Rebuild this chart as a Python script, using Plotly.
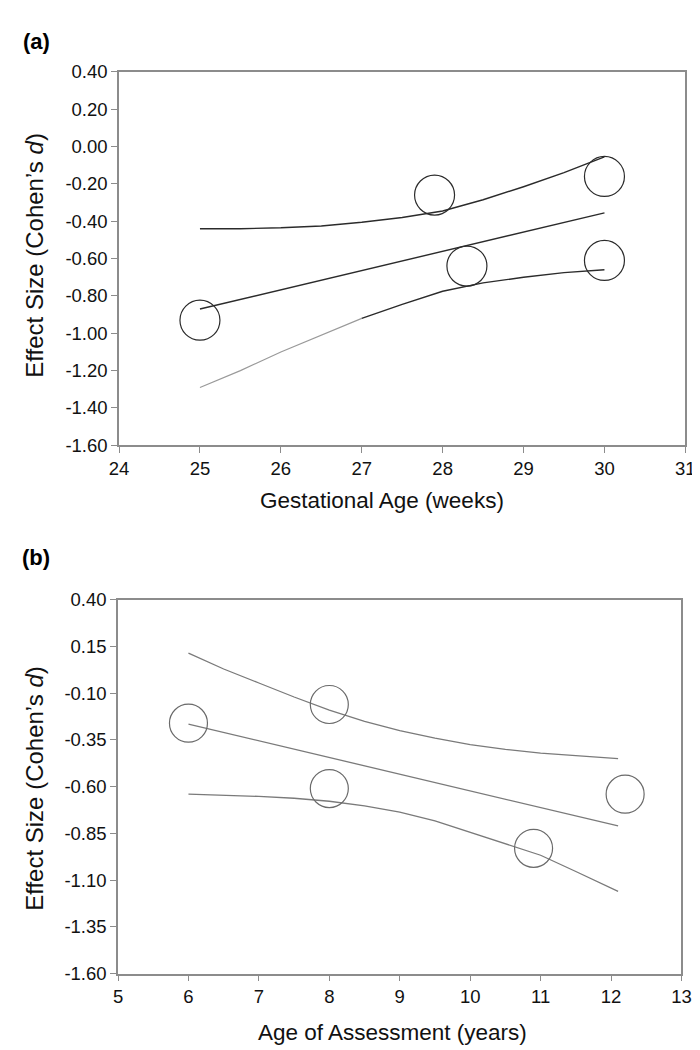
import plotly.graph_objects as go

# (a) effect size vs gestational age
ga_studies_x = [25, 27.9, 28.3, 30, 30]
ga_studies_d = [-0.93, -0.26, -0.64, -0.61, -0.16]
ga_fit_x = [25, 30]
ga_fit = [-0.87, -0.355]
ga_ci_x = [25, 25.5, 26, 26.5, 27, 27.5, 28, 28.5, 29, 29.5, 30]
ga_upper = [-0.44, -0.44, -0.435, -0.425, -0.405, -0.38, -0.345, -0.285, -0.215, -0.14, -0.055]
ga_lower = [-1.29, -1.20, -1.10, -1.01, -0.92, -0.845, -0.775, -0.73, -0.70, -0.675, -0.66]

# (b) effect size vs age of assessment
age_studies_x = [6, 8, 8, 10.9, 12.2]
age_studies_d = [-0.26, -0.16, -0.61, -0.93, -0.64]
age_fit_x = [6, 12.1]
age_fit = [-0.265, -0.81]
age_ci_x = [6, 6.5, 7, 7.5, 8, 8.5, 9, 9.5, 10, 10.5, 11, 11.5, 12.1]
age_upper = [0.115, 0.03, -0.045, -0.12, -0.19, -0.25, -0.30, -0.34, -0.375, -0.40, -0.42, -0.435, -0.45]
age_lower = [-0.64, -0.645, -0.652, -0.662, -0.678, -0.703, -0.736, -0.783, -0.845, -0.906, -0.967, -1.054, -1.16]

# tick labels
ga_xticks = [24, 25, 26, 27, 28, 29, 30, 31]
ga_yticks = [0.40, 0.20, 0.00, -0.20, -0.40, -0.60, -0.80, -1.00, -1.20, -1.40, -1.60]
ga_ylabels = ["0.40", "0.20", "0.00", "-0.20", "-0.40", "-0.60", "-0.80", "-1.00", "-1.20", "-1.40", "-1.60"]
age_xticks = [5, 6, 7, 8, 9, 10, 11, 12, 13]
age_yticks = [0.40, 0.15, -0.10, -0.35, -0.60, -0.85, -1.10, -1.35, -1.60]
age_ylabels = ["0.40", "0.15", "-0.10", "-0.35", "-0.60", "-0.85", "-1.10", "-1.35", "-1.60"]

FONT = "Liberation Sans, Arial, sans-serif"
dark = "#2b2b2b"
grey = "#7a7a7a"

fig = go.Figure()

# panel (a)
fig.add_trace(go.Scatter(x=ga_ci_x, y=ga_upper, mode="lines", line=dict(color=dark, width=1.4)))
fig.add_trace(go.Scatter(x=ga_fit_x, y=ga_fit, mode="lines", line=dict(color=dark, width=1.4)))
# lower band is drawn lighter on its left part in the original
fig.add_trace(go.Scatter(x=ga_ci_x[:5], y=ga_lower[:5], mode="lines", line=dict(color="#9a9a9a", width=1.2)))
fig.add_trace(go.Scatter(x=ga_ci_x[4:], y=ga_lower[4:], mode="lines", line=dict(color=dark, width=1.4)))
fig.add_trace(go.Scatter(x=ga_studies_x, y=ga_studies_d, mode="markers",
                         marker=dict(symbol="circle-open", size=40, color=dark, line=dict(width=1.2))))

# panel (b)
fig.add_trace(go.Scatter(x=age_ci_x, y=age_upper, mode="lines", line=dict(color=grey, width=1.3),
                         xaxis="x2", yaxis="y2"))
fig.add_trace(go.Scatter(x=age_fit_x, y=age_fit, mode="lines", line=dict(color=grey, width=1.3),
                         xaxis="x2", yaxis="y2"))
fig.add_trace(go.Scatter(x=age_ci_x, y=age_lower, mode="lines", line=dict(color=grey, width=1.3),
                         xaxis="x2", yaxis="y2"))
fig.add_trace(go.Scatter(x=age_studies_x, y=age_studies_d, mode="markers", xaxis="x2", yaxis="y2",
                         marker=dict(symbol="circle-open", size=38, color="#6a6a6a", line=dict(width=1.2))))

axis_style = dict(showline=True, linecolor="#8c8c8c", linewidth=1.5, mirror=True,
                  ticks="outside", ticklen=6, tickcolor="#8c8c8c", tickwidth=1,
                  showgrid=False, zeroline=False,
                  tickfont=dict(family=FONT, size=18.5, color="#111111"))

fig.update_layout(
    width=700, height=1050,
    margin=dict(l=0, r=0, t=0, b=0),
    paper_bgcolor="white", plot_bgcolor="white",
    showlegend=False,
    xaxis=dict(axis_style, domain=[0.1486, 0.9814], range=[24, 31], tickvals=ga_xticks, anchor="y"),
    yaxis=dict(axis_style, domain=[0.5857, 0.9486], range=[-1.6, 0.4],
               tickvals=ga_yticks, ticktext=ga_ylabels, anchor="x"),
    xaxis2=dict(axis_style, domain=[0.1471, 0.9757], range=[5, 13], tickvals=age_xticks, anchor="y2"),
    yaxis2=dict(axis_style, domain=[0.0724, 0.4355], range=[-1.6, 0.4],
                tickvals=age_yticks, ticktext=age_ylabels, anchor="x2"),
)

title_font = dict(family=FONT, size=24, color="#111111")
label_font = dict(family=FONT, size=22, color="black")
notes = [
    dict(text="<b>(a)</b>", x=3 / 700, y=1 - 23 / 1050, xanchor="left", font=label_font),
    dict(text="<b>(b)</b>", x=2 / 700, y=1 - 549 / 1050, xanchor="left", font=label_font),
    dict(text="Effect Size (Cohen’s <i>d</i>)", x=17 / 700, y=1 - 241 / 1050, textangle=-90, font=title_font),
    dict(text="Effect Size (Cohen’s <i>d</i>)", x=17 / 700, y=1 - 785 / 1050, textangle=-90, font=title_font),
    dict(text="Gestational Age (weeks)", x=375 / 700, y=1 - 491 / 1050, font=dict(family=FONT, size=22.5, color="#111111")),
    dict(text="Age of Assessment (years)", x=386 / 700, y=1 - 1034 / 1050, font=dict(family=FONT, size=22.5, color="#111111")),
]
for n in notes:
    n.setdefault("xanchor", "center")
    fig.add_annotation(xref="paper", yref="paper", yanchor="middle", showarrow=False, **n)

fig.write_html("out.html")
